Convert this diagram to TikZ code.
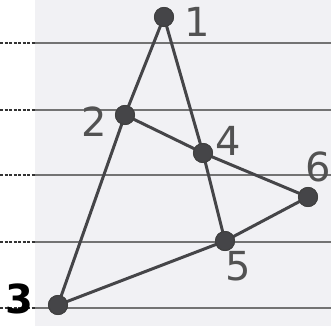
\documentclass[tikz,border=0pt]{standalone}
\usepackage{fontspec}
\setmainfont{DejaVu Sans}
\definecolor{paper}{HTML}{F1F1F4}
\definecolor{ink}{HTML}{454548}
\begin{document}
\begin{tikzpicture}[x=1pt,y=-1pt,
  rule/.style={draw=black!55,line width=2pt},
  ledge/.style={draw=black!80,line width=1.3pt,dash pattern=on 3pt off 1.5pt},
  edge/.style={draw=ink,line width=3pt,line cap=round},
  dot/.style={circle,fill=ink,draw=black!75,line width=1pt,minimum size=19pt,inner sep=0pt},
  lab/.style={text=black!68,font=\fontsize{40}{40}\selectfont}]
\fill[white] (0,0) rectangle (331,326);
\fill[paper] (35,0) rectangle (331,326);
\useasboundingbox (0,0) rectangle (331,326);
% ruled lines
\foreach \yy in {43,110,175,242,308}{
  \draw[rule] (35,\yy) -- (331,\yy);
  \draw[ledge] (0,\yy) -- (35,\yy);
}
% points
\node[dot] (n1) at (164,17) {};
\node[dot] (n2) at (125,115) {};
\node[dot] (n4) at (203,153) {};
\node[dot] (n6) at (308,197) {};
\node[dot] (n5) at (225,241) {};
\node[dot] (n3) at (58,305) {};
% lines
\draw[edge] (n1.center) -- (n2.center) -- (n3.center);
\draw[edge] (n1.center) -- (n4.center) -- (n5.center);
\draw[edge] (n2.center) -- (n4.center) -- (n6.center);
\draw[edge] (n3.center) -- (n5.center) -- (n6.center);
\foreach \n in {n1,n2,n3,n4,n5,n6}{\node[dot] at (\n) {};}
% labels
\node[lab] (l1) at (197,22) {1};
\node[lab] (l2) at (94,122) {2};
\node[lab] (l4) at (228,141) {4};
\node[lab] (l6) at (318,167) {6};
\node[lab] (l5) at (238,266) {5};
\node[lab,text=black,font=\fontsize{40}{40}\selectfont\bfseries,inner sep=0pt] (l3) at (19,299) {3};
\end{tikzpicture}
\end{document}
